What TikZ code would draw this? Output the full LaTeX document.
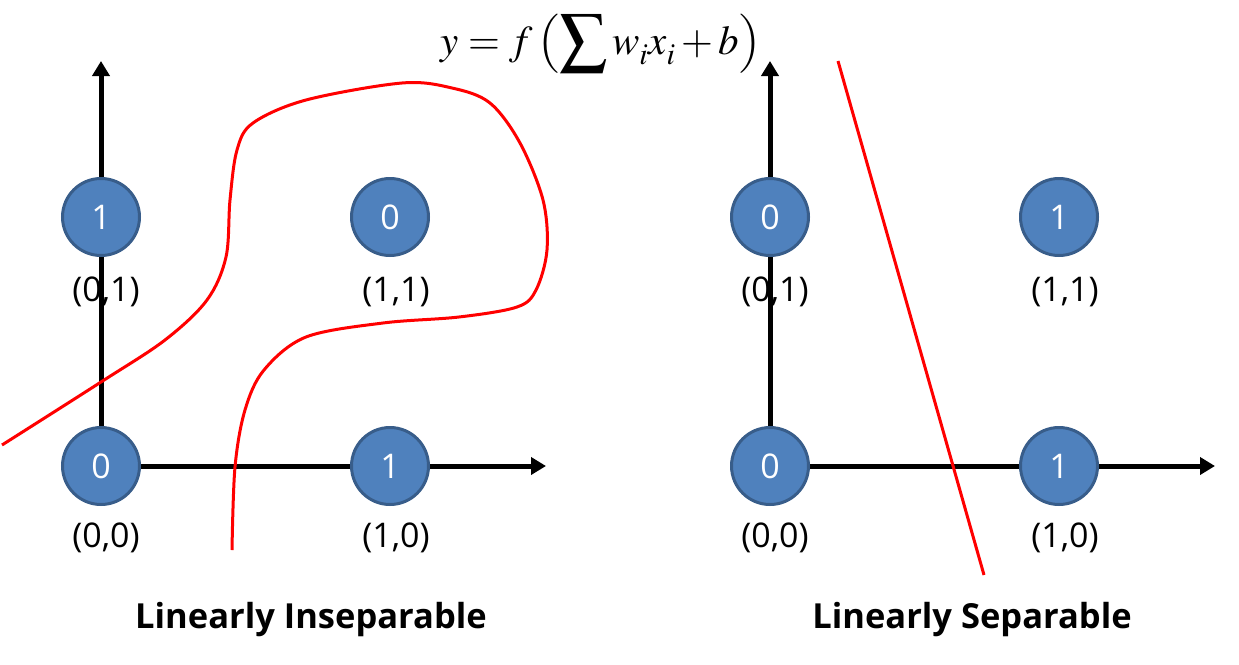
\documentclass[tikz,border=0pt]{standalone}
\usepackage{mathptmx}
\usepackage{fontspec}
\setmainfont{Open Sans}
\usetikzlibrary{arrows.meta,positioning}
\definecolor{ptblue}  {HTML}{4F81BD}
\definecolor{ptedge}  {HTML}{385D8A}
\definecolor{cutred}  {HTML}{FF0000}
\newcommand{\bigsum}{\mathop{\vcenter{\hbox{\scalebox{1.15}{$\displaystyle\sum$}}}}}
\newcommand{\lpar}{\mathopen{\vcenter{\hbox{\scalebox{0.9}[0.8]{$\Bigl($}}}}}
\newcommand{\rpar}{\mathclose{\vcenter{\hbox{\scalebox{0.9}[0.8]{$\Bigr)$}}}}}
\tikzset{
  ptnode/.style={circle, draw=ptedge, line width=3pt, fill=ptblue, minimum size=77pt,
                 inner sep=0pt, text=white, font=\fontsize{34}{40}\selectfont},
  ptlabel/.style={font=\fontsize{34}{40}\selectfont, inner sep=0pt},
  axisline/.style={line width=5pt, -{Triangle[length=15pt,width=17pt]}},
  cutline/.style={draw=cutred, line width=3pt},
  paneltitle/.style={font=\fontsize{34.5}{40}\selectfont\bfseries, inner sep=0pt},
}
\begin{document}
\begin{tikzpicture}[x=1pt,y=-1pt]
  \useasboundingbox (0,0) rectangle (1239,664);

  % formula
  \node[font=\fontsize{41}{46}\selectfont, inner sep=0pt, anchor=base] (formula) at (601,54)
    {$\displaystyle y=f\,\lpar\bigsum w_{\raisebox{-4pt}{$\scriptstyle i$}}
      x_{\raisebox{-4pt}{$\scriptstyle i$}}+b\rpar$};

  % left panel: inseparable
  \coordinate (origL) at (101,466);
  \coordinate (ytipL) at (101,61);
  \coordinate (xtipL) at (546,466);
  \draw[axisline] (origL) -- (ytipL);
  \draw[axisline] (origL) -- (xtipL);
  \node[ptnode] (l00) at (origL) {0};
  \node[ptnode] (l01) at (101,217) {1};
  \node[ptnode] (l10) at (390,466) {1};
  \node[ptnode] (l11) at (390,217) {0};
  \node[ptlabel] at (106,538) {(0,0)};
  \node[ptlabel] at (106,292) {(0,1)};
  \node[ptlabel] at (396,538) {(1,0)};
  \node[ptlabel] at (396,292) {(1,1)};
  \draw[cutline] plot[smooth, tension=0.55] coordinates {
    (2,445) (101,382) (165,340) (207,300) (226,257) (230,200) (237,150)
    (253,123) (306,100) (402,83) (452,88) (490,103) (520,143) (543,200)
    (547,250) (536,290) (517,307) (459,317) (383,323) (306,337) (264,370)
    (245,410) (235,467) (232,550)};
  \node[paneltitle] (titleL) at (311,620) {Linearly Inseparable};

  % right panel: separable
  \coordinate (origR) at (770,466);
  \coordinate (ytipR) at (770,61);
  \coordinate (xtipR) at (1215,466);
  \draw[axisline] (origR) -- (ytipR);
  \draw[axisline] (origR) -- (xtipR);
  \node[ptnode] (r00) at (origR) {0};
  \node[ptnode] (r01) at (770,217) {0};
  \node[ptnode] (r10) at (1059,466) {1};
  \node[ptnode] (r11) at (1059,217) {1};
  \node[ptlabel] at (775,538) {(0,0)};
  \node[ptlabel] at (775,292) {(0,1)};
  \node[ptlabel] at (1065,538) {(1,0)};
  \node[ptlabel] at (1065,292) {(1,1)};
  \coordinate (cutA) at (838,61);
  \coordinate (cutB) at (984,575);
  \draw[cutline] (cutA) -- (cutB);
  \node[paneltitle] (titleR) at (972,620) {Linearly Separable};
\end{tikzpicture}
\end{document}
